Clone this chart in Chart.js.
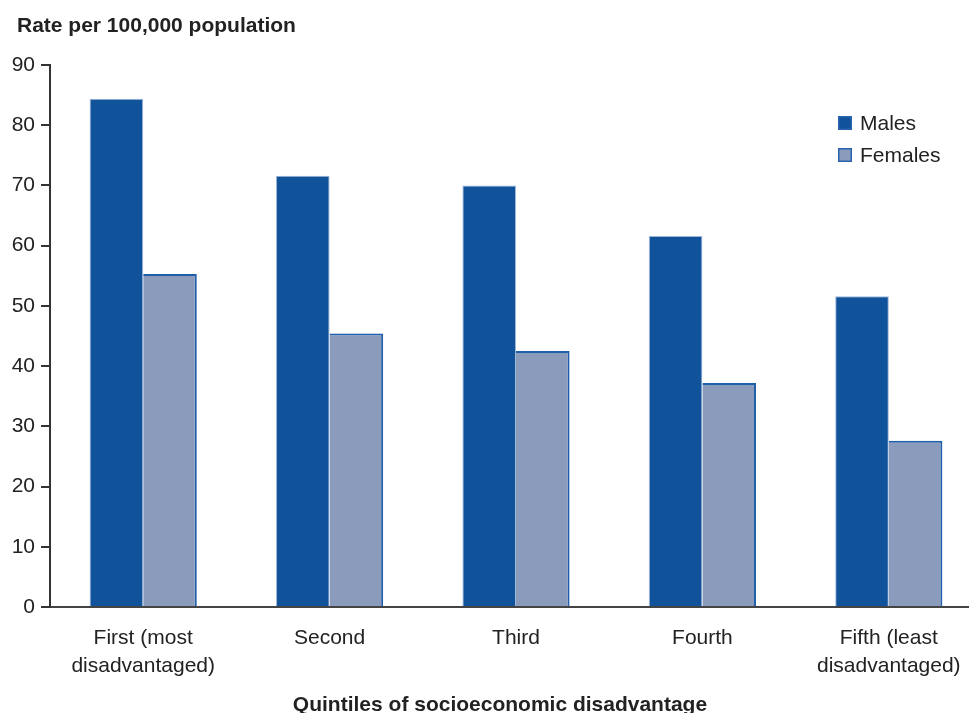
<!DOCTYPE html>
<html lang="en"><head>
<title>Rate by socioeconomic quintile</title>
<style>
* { margin: 0; padding: 0 }
html, body { width: 969px; height: 713px; overflow: hidden; background: #fff; }
#Wrap { position: absolute; left: 0; top: 0; width: 982px; height: 713px; }
</style>
<script src="https://cdn.jsdelivr.net/npm/chart.js"></script>
<script>

const categories = [
  ["First (most", "disadvantaged)"],
  "Second",
  "Third",
  "Fourth",
  ["Fifth (least", "disadvantaged)"],
];
const males = [84.4, 71.6, 70.0, 61.6, 51.6];
const females = [55.3, 45.4, 42.5, 37.2, 27.6];
const yTicks = [0, 10, 20, 30, 40, 50, 60, 70, 80, 90];

const Y_TITLE = "Rate per 100,000 population";
const X_TITLE = "Quintiles of socioeconomic disadvantage";

const MALE_COLOR = "#10539b";
const FEMALE_COLOR = "#8a9bbb";
const FONT = "'Liberation Sans', Arial, sans-serif";

function get(id) {
    return document.getElementById(id);
}

// titles and legend, drawn on top of the chart
const decorPlugin = {
    id: "decor",
    afterDraw(chart) {
        const ctx = chart.ctx;
        ctx.save();
        ctx.fillStyle = "#222";
        ctx.font = "bold 21px " + FONT;
        ctx.textBaseline = "alphabetic";
        ctx.textAlign = "left";
        ctx.fillText(Y_TITLE, 17, 32);
        ctx.textAlign = "center";
        ctx.fillText(X_TITLE, 500, 711);

        // legend
        ctx.textAlign = "left";
        ctx.textBaseline = "middle";
        ctx.font = "21px " + FONT;
        chart.data.datasets.forEach(function(ds, i) {
            const y = 123 + i * 32;
            ctx.fillStyle = ds.backgroundColor;
            ctx.fillRect(838, y - 7, 14, 14);
            ctx.strokeStyle = "#2a64b0";
            ctx.lineWidth = 1.5;
            ctx.strokeRect(838.75, y - 6.25, 12.5, 12.5);
            ctx.fillStyle = "#222";
            ctx.fillText(ds.label, 860, y + 1);
        });
        ctx.restore();
    }
};

function bodyOnLoad() {
    new Chart(get("RateChart"), {
        type: "bar",
        data: {
            labels: categories,
            datasets: [{
                label: "Males",
                data: males,
                backgroundColor: MALE_COLOR,
                borderColor: "#9db6da",
                borderWidth: { top: 1, right: 1, left: 1, bottom: 0 },
                borderSkipped: false,
                barPercentage: 1.0,
                categoryPercentage: 0.575,
            },{
                label: "Females",
                data: females,
                backgroundColor: FEMALE_COLOR,
                borderColor: "#1f5eaa",
                borderWidth: { top: 2, right: 2, left: 0, bottom: 0 },
                borderSkipped: false,
                barPercentage: 1.0,
                categoryPercentage: 0.575,
            }],
        },
        options: {
            responsive: false,
            animation: false,
            devicePixelRatio: 1,
            layout: { padding: { top: 65, left: 0, right: 0, bottom: 0 } },
            plugins: {
                legend: { display: false },
                tooltip: { enabled: false },
            },
            scales: {
                x: {
                    grid: { display: false, drawTicks: false },
                    border: { display: true, color: "#444", width: 2 },
                    ticks: {
                        color: "#222",
                        font: { family: FONT, size: 21, lineHeight: 1.3 },
                        padding: 18,
                        maxRotation: 0,
                        autoSkip: false,
                    },
                    afterFit(scale) { scale.height = 106; },
                },
                y: {
                    min: 0,
                    max: 90,
                    afterBuildTicks(scale) {
                        scale.ticks = yTicks.map(function(v) { return { value: v }; });
                    },
                    grid: {
                        drawOnChartArea: false,
                        drawTicks: true,
                        tickLength: 9,
                        color: "#333",
                        lineWidth: 2,
                    },
                    border: { display: true, color: "#333", width: 2 },
                    ticks: {
                        color: "#222",
                        font: { family: FONT, size: 21 },
                        padding: 6,
                    },
                    afterFit(scale) { scale.width = 50; },
                },
            },
        },
        plugins: [decorPlugin],
    });
}

</script>
</head><body onload="bodyOnLoad()">
<div id="Wrap"><canvas id="RateChart" width="982" height="713"></canvas></div>
</body></html>
